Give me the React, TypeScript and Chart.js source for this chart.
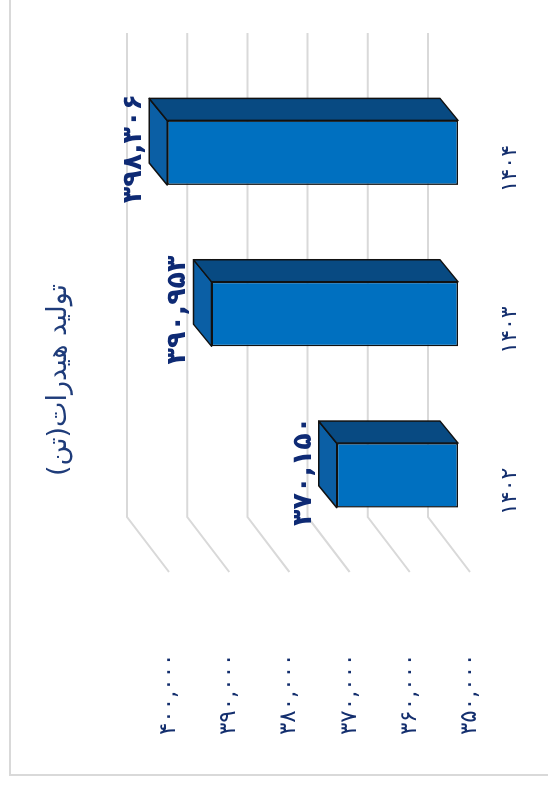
import React, { useEffect, useRef } from 'react';
import { Chart, registerables } from 'chart.js';

Chart.register(...registerables);

// data
const years = ['۱۴۰۲', '۱۴۰۳', '۱۴۰۴'];
const hydrateTons = [370150, 390953, 398306];
const axisMin = 350000;
const axisMax = 400000;
const axisStep = 10000;
const chartTitle = 'تولید هیدرات(تن)\u200F';

const faDigits = '۰۱۲۳۴۵۶۷۸۹';
const toFa = (n: number) => n.toLocaleString('en-US').replace(/\d/g, d => faDigits[Number(d)]);

// fake 3D offsets, in the unrotated canvas
const WALL = { du: 39, dv: -30 }; // bar front plane -> back wall
const FLOOR = { du: -55, dv: 42 }; // back wall -> front edge of floor
const DEPTH = { du: 22, dv: -18 }; // bar front face -> bar back face

const navy = '#142F6E';
const faFont = '"DejaVu Sans", sans-serif';

function face(ctx: CanvasRenderingContext2D, pts: number[][], fill: string) {
  ctx.beginPath();
  ctx.moveTo(pts[0][0], pts[0][1]);
  for (let i = 1; i < pts.length; i++) ctx.lineTo(pts[i][0], pts[i][1]);
  ctx.closePath();
  ctx.fillStyle = fill;
  ctx.fill();
  ctx.stroke();
}

const box3d = {
  id: 'box3d',
  beforeDraw(chart: Chart) {
    const { ctx } = chart;
    ctx.save();
    // outer frame, only its top and left edges fall inside the picture
    ctx.strokeStyle = '#D9D9D9';
    ctx.lineWidth = 2;
    ctx.strokeRect(13, 10, 1000, 1000);
    // title, centred a bit right of the canvas middle like the original
    ctx.font = `27px ${faFont}`;
    ctx.fillStyle = '#1F3C7A';
    ctx.textAlign = 'center';
    ctx.textBaseline = 'middle';
    ctx.fillText(chartTitle, 408, 59);
    ctx.restore();
  },
  beforeDatasetsDraw(chart: Chart) {
    const { ctx, chartArea } = chart;
    const yScale = chart.scales.y;
    const left = chartArea.left + WALL.du;
    const right = chartArea.right + WALL.du;
    ctx.save();
    // back wall gridlines with the side wall diagonal
    ctx.strokeStyle = '#D9D9D9';
    ctx.lineWidth = 2;
    yScale.ticks.forEach(t => {
      const v = yScale.getPixelForValue(t.value) + WALL.dv;
      ctx.beginPath();
      ctx.moveTo(right, v);
      ctx.lineTo(left, v);
      ctx.lineTo(left + FLOOR.du, v + FLOOR.dv);
      ctx.stroke();
    });
    // top and side faces of the bars
    ctx.strokeStyle = '#111111';
    ctx.lineWidth = 1.5;
    ctx.lineJoin = 'round';
    chart.getDatasetMeta(0).data.forEach((el: any) => {
      const { x, y, base, width } = el;
      const l = x - width / 2;
      const r = x + width / 2;
      face(ctx, [[l, y], [r, y], [r + DEPTH.du, y + DEPTH.dv], [l + DEPTH.du, y + DEPTH.dv]], '#0B5FA5');
      face(ctx, [[r, y], [r + DEPTH.du, y + DEPTH.dv], [r + DEPTH.du, base + DEPTH.dv], [r, base]], '#084A82');
    });
    ctx.restore();
  },
  afterDatasetsDraw(chart: Chart) {
    const { ctx } = chart;
    ctx.save();
    ctx.font = `bold 27px ${faFont}`;
    ctx.fillStyle = '#0E2A74';
    ctx.textAlign = 'center';
    ctx.textBaseline = 'alphabetic';
    chart.getDatasetMeta(0).data.forEach((el: any, i: number) => {
      ctx.fillText(toFa(hydrateTons[i]), el.x + 4, el.y - 26);
    });
    ctx.restore();
  },
};

export default function App() {
  const canvasRef = useRef<HTMLCanvasElement | null>(null);

  useEffect(() => {
    if (!canvasRef.current) return;
    const chart = new Chart(canvasRef.current, {
      type: 'bar',
      data: {
        labels: years,
        datasets: [
          {
            data: hydrateTons,
            base: axisMin,
            backgroundColor: '#0070C0',
            borderColor: '#111111',
            borderWidth: 1.5,
            borderSkipped: false,
            categoryPercentage: 1,
            barPercentage: 0.4,
          },
        ],
      },
      options: {
        responsive: false,
        animation: false,
        layout: { padding: { left: 53, right: 72, top: 157, bottom: 0 } },
        plugins: {
          legend: { display: false },
          tooltip: { enabled: false },
          title: { display: false },
        },
        scales: {
          x: {
            grid: { display: false, drawTicks: false },
            border: { display: false },
            ticks: {
              color: navy,
              font: { family: faFont, size: 22 },
              padding: 39,
              labelOffset: -16,
            },
            afterFit: (s: any) => {
              s.height = 90;
            },
          },
          y: {
            min: axisMin,
            max: axisMax,
            grid: { display: false, drawTicks: false },
            border: { display: false },
            ticks: {
              stepSize: axisStep,
              color: navy,
              font: { family: faFont, size: 23 },
              padding: 0,
              crossAlign: 'far',
              labelOffset: 12,
              callback: (v: any) => toFa(Number(v)),
            },
            afterFit: (s: any) => {
              s.width = 179;
            },
          },
        },
      },
      plugins: [box3d],
    });
    return () => chart.destroy();
  }, []);

  return (
    <div
      style={{
        position: 'fixed',
        left: 0,
        top: 0,
        width: 548,
        height: 788,
        overflow: 'hidden',
        background: '#ffffff',
      }}
    >
      <div
        style={{
          position: 'absolute',
          left: 0,
          top: 0,
          width: 788,
          height: 548,
          transformOrigin: '0 0',
          transform: 'translate(0px, 788px) rotate(-90deg)',
        }}
      >
        <canvas ref={canvasRef} width={788} height={548} style={{ display: 'block' }} />
      </div>
    </div>
  );
}
